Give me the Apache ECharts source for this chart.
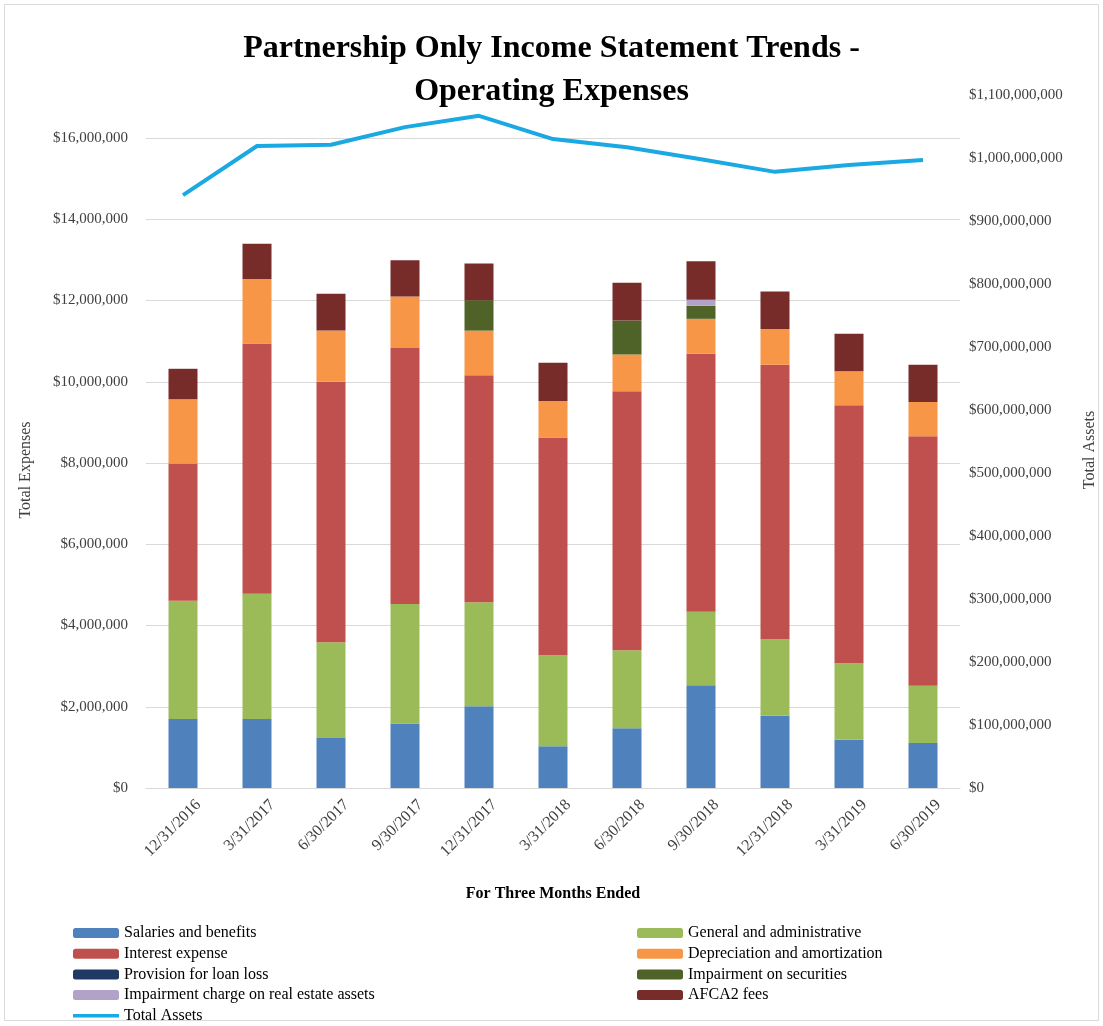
<!DOCTYPE html>
<html>
<head>
<meta charset="utf-8">
<title>Partnership Only Income Statement Trends - Operating Expenses</title>
<script src="https://cdn.jsdelivr.net/npm/echarts@6/dist/echarts.min.js"></script>
<style>
  html, body { margin: 0; padding: 0; background: #ffffff; }
  #chart { width: 1103px; height: 1026px; }
</style>
</head>
<body>
<div id="chart"></div>
<script>
// Quarter-end dates (three months ended)
const quarters = ['12/31/2016', '3/31/2017', '6/30/2017', '9/30/2017', '12/31/2017', '3/31/2018',
                  '6/30/2018', '9/30/2018', '12/31/2018', '3/31/2019', '6/30/2019'];

// Operating expense components, in dollars
const salaries      = [1700000, 1700000, 1230000, 1590000, 2010000, 1030000, 1470000, 2530000, 1780000, 1190000, 1110000];
const generalAdmin  = [2910000, 3080000, 2360000, 2940000, 2560000, 2240000, 1920000, 1810000, 1880000, 1880000, 1410000];
const interest      = [3380000, 6160000, 6410000, 6300000, 5590000, 5360000, 6380000, 6350000, 6760000, 6350000, 6140000];
const depreciation  = [1580000, 1590000, 1260000, 1270000, 1100000, 900000, 900000, 860000, 880000, 840000, 840000];
const loanLoss      = [0, 0, 0, 0, 0, 0, 0, 0, 0, 0, 0];
const impairSec     = [0, 0, 0, 0, 750000, 0, 840000, 320000, 0, 0, 0];
const impairRE      = [0, 0, 0, 0, 0, 0, 0, 150000, 0, 0, 0];
const afca2Fees     = [750000, 870000, 910000, 890000, 900000, 940000, 930000, 950000, 920000, 920000, 920000];

// Total assets, in dollars (right axis)
const totalAssets = [941000000, 1019000000, 1021000000, 1049000000, 1067000000, 1030000000,
                     1017000000, 998000000, 978000000, 989000000, 997000000];

const serif = '"Liberation Serif", "Times New Roman", serif';

function money(v) {
  return '$' + Math.round(v).toString().replace(/\B(?=(\d{3})+(?!\d))/g, ',');
}

const stackSeries = [
  ['Salaries and benefits', salaries, '#4f81bd'],
  ['General and administrative', generalAdmin, '#9bbb59'],
  ['Interest expense', interest, '#c0504d'],
  ['Depreciation and amortization', depreciation, '#f79646'],
  ['Provision for loan loss', loanLoss, '#1f3864'],
  ['Impairment on securities', impairSec, '#4f6228'],
  ['Impairment charge on real estate assets', impairRE, '#b3a2c7'],
  ['AFCA2 fees', afca2Fees, '#772c2a']
].map(([name, data, color]) => ({
  name: name,
  type: 'bar',
  stack: 'expenses',
  yAxisIndex: 0,
  barWidth: 29,
  itemStyle: { color: color },
  emphasis: { disabled: true },
  data: data
}));

const legendText = { fontFamily: serif, fontSize: 16, color: '#000000', lineHeight: 14 };
// thin bar used as the legend swatch of the assets line
const lineIcon = 'path://M0,0 L46,0 L46,3.5 L0,3.5 Z';

const chart = echarts.init(document.getElementById('chart'), null, { renderer: 'canvas' });

chart.setOption({
  animation: false,
  backgroundColor: '#ffffff',
  title: {
    text: 'Partnership Only Income Statement Trends -\nOperating Expenses',
    left: 'center',
    top: 22,
    textStyle: { fontFamily: serif, fontSize: 32, fontWeight: 'bold', color: '#000000', lineHeight: 43 }
  },
  grid: { left: 146, right: 143, top: 95, bottom: 238, containLabel: false },
  legend: [
    {
      orient: 'vertical', left: 68, top: 920, height: 106, itemWidth: 46, itemHeight: 10, itemGap: 4.7,
      symbolKeepAspect: true,
      textStyle: legendText,
      data: ['Salaries and benefits', 'Interest expense', 'Provision for loan loss',
             'Impairment charge on real estate assets',
             { name: 'Total Assets', icon: lineIcon }]
    },
    {
      orient: 'vertical', left: 632, top: 920, height: 106, itemWidth: 46, itemHeight: 10, itemGap: 4.7,
      textStyle: legendText,
      data: ['General and administrative', 'Depreciation and amortization',
             'Impairment on securities', 'AFCA2 fees']
    }
  ],
  xAxis: {
    type: 'category',
    data: quarters,
    name: 'For Three Months Ended',
    nameLocation: 'middle',
    nameGap: 98,
    nameTextStyle: { fontFamily: serif, fontSize: 16, fontWeight: 'bold', color: '#000000' },
    axisLine: { lineStyle: { color: '#d9d9d9' } },
    axisTick: { show: false },
    axisLabel: { rotate: 45, margin: 30, padding: [0, -22, 0, 0], fontFamily: serif, fontSize: 16, color: '#404040' }
  },
  yAxis: [
    {
      type: 'value',
      min: 0,
      max: 17060000,
      interval: 2000000,
      axisLine: { show: false },
      axisTick: { show: false },
      axisLabel: { showMaxLabel: false, margin: 18, fontFamily: serif, fontSize: 15, color: '#404040', formatter: money },
      splitLine: { showMaxLine: false, lineStyle: { color: '#d9d9d9' } }
    },
    {
      type: 'value',
      min: 0,
      max: 1100000000,
      interval: 100000000,
      position: 'right',
      axisLine: { show: false },
      axisTick: { show: false },
      axisLabel: { margin: 9, fontFamily: serif, fontSize: 15, color: '#404040', formatter: money },
      splitLine: { show: false }
    }
  ],
  graphic: [
    {
      type: 'rect', silent: true, z: -1,
      shape: { x: 4.5, y: 4.5, width: 1094, height: 1016 },
      style: { fill: 'none', stroke: '#d9d9d9', lineWidth: 1 }
    },
    {
      type: 'text', silent: true, x: 26, y: 470, rotation: Math.PI / 2,
      style: { text: 'Total Expenses', fontFamily: serif, fontSize: 16, fill: '#404040', align: 'center', verticalAlign: 'middle' }
    },
    {
      type: 'text', silent: true, x: 1090, y: 450, rotation: Math.PI / 2,
      style: { text: 'Total Assets', fontFamily: serif, fontSize: 16, fill: '#404040', align: 'center', verticalAlign: 'middle' }
    }
  ],
  series: stackSeries.concat([
    {
      name: 'Total Assets',
      type: 'line',
      yAxisIndex: 1,
      symbol: 'none',
      lineStyle: { color: '#1aa9e3', width: 4 },
      itemStyle: { color: '#1aa9e3' },
      emphasis: { disabled: true },
      z: 5,
      data: totalAssets
    }
  ])
});
</script>
</body>
</html>
